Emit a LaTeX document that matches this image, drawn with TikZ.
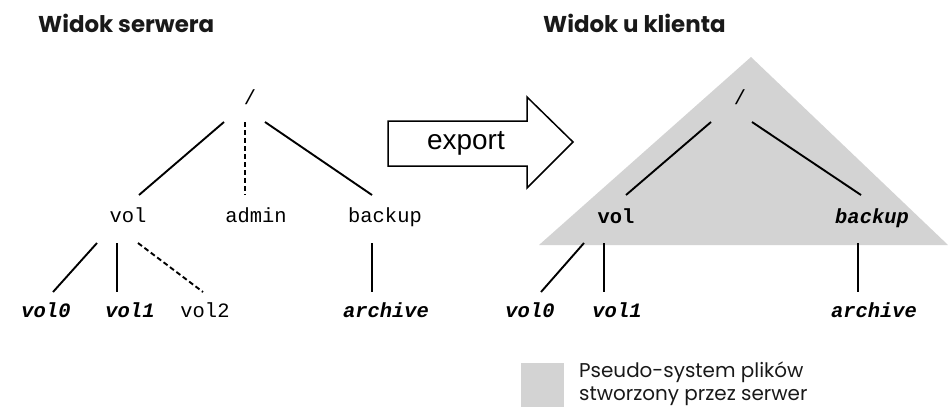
\documentclass[tikz,border=0pt]{standalone}
\usepackage{fontspec}
\usetikzlibrary{calc}
\newfontfamily\headfont{Poppins}
\newfontfamily\legendfont{Poppins}
\newfontfamily\arrowfont{Liberation Sans}
\newfontfamily\pathfont{Liberation Mono}
\definecolor{pseudo}{RGB}{211,211,211}
\definecolor{ink}{RGB}{25,25,25}
\begin{document}
\begin{tikzpicture}[x=1bp,y=-1bp,
  title/.style={anchor=base west,inner sep=0pt,text=ink,font=\headfont\bfseries\fontsize{23}{27}\selectfont},
  dir/.style={anchor=base,inner sep=0pt,font=\pathfont\fontsize{20.5}{24}\selectfont},
  dirb/.style={dir,font=\pathfont\bfseries\fontsize{20.5}{24}\selectfont},
  dirbi/.style={dir,font=\pathfont\bfseries\itshape\fontsize{20.5}{24}\selectfont},
  rootdir/.style={inner sep=0pt,font=\pathfont\fontsize{20.5}{24}\selectfont},
  edge/.style={line width=1.9bp,black},
  softedge/.style={line width=1.9bp,black,dash pattern=on 5bp off 3bp}]
\useasboundingbox (0,0) rectangle (948,409);

% headings
\node[title] (hs) at (38,32) {Widok serwera};
\node[title] (hc) at (543,32) {Widok u klienta};

% pseudo file system exported to the client
\fill[pseudo] (751,57) -- (539,245) -- (948,245) -- cycle;

% export arrow
\draw[line width=1.5bp] (388,121) -- (527,121) -- (527,97) -- (573,142)
  -- (527,188) -- (527,166) -- (388,166) -- cycle;
\node[inner sep=0pt,font=\arrowfont\fontsize{28}{32}\selectfont] (exp) at (466,143) {export};

% server tree
\node[rootdir] (rootL) at (250,97) {/};
\node[dir] (volL) at (128,222) {vol};
\node[dir] (adminL) at (256,222) {admin};
\node[dir] (backupL) at (385,222) {backup};
\node[dirbi] (vol0L) at (46,317) {vol0};
\node[dirbi] (vol1L) at (130,317) {vol1};
\node[dir] (vol2L) at (205,317) {vol2};
\node[dirbi] (archL) at (386,317) {archive};

\draw[edge] ($(rootL)+(-26,25)$) -- ($(volL.base)+(11,-27)$);
\draw[softedge] ($(rootL)+(-5,25)$) -- ($(adminL.base)+(-11,-27)$);
\draw[edge] ($(rootL)+(15,25)$) -- ($(backupL.base)+(-13,-27)$);
\draw[edge] ($(volL.base)+(-31,21)$) -- ($(vol0L.base)+(7,-25)$);
\draw[edge] ($(volL.base)+(-11,21)$) -- ($(vol1L.base)+(-13,-25)$);
\draw[softedge] ($(volL.base)+(10,21)$) -- ($(vol2L.base)+(-2,-25)$);
\draw[edge] ($(backupL.base)+(-13,21)$) -- ($(archL.base)+(-14,-25)$);

% client tree
\node[rootdir] (rootR) at (740,97) {/};
\node[dirb] (volR) at (616,223) {vol};
\node[dirbi] (backupR) at (872,223) {backup};
\node[dirbi] (vol0R) at (530,317) {vol0};
\node[dirbi] (vol1R) at (617,317) {vol1};
\node[dirbi] (archR) at (874,317) {archive};

\draw[edge] ($(rootR)+(-29,25)$) -- ($(volR.base)+(10,-28)$);
\draw[edge] ($(rootR)+(12,25)$) -- ($(backupR.base)+(-11,-28)$);
\draw[edge] ($(volR.base)+(-32,20)$) -- ($(vol0R.base)+(11,-25)$);
\draw[edge] ($(volR.base)+(-12,20)$) -- ($(vol1R.base)+(-13,-25)$);
\draw[edge] ($(backupR.base)+(-14,20)$) -- ($(archR.base)+(-16,-25)$);

% legend
\fill[pseudo] (521,363) rectangle (564,407);
\node[anchor=base west,inner sep=0pt,align=left,text=ink,
  font=\legendfont\fontsize{20}{22.5}\selectfont] (leg) at (579,400)
  {Pseudo-system plików\\stworzony przez serwer};
\end{tikzpicture}
\end{document}
